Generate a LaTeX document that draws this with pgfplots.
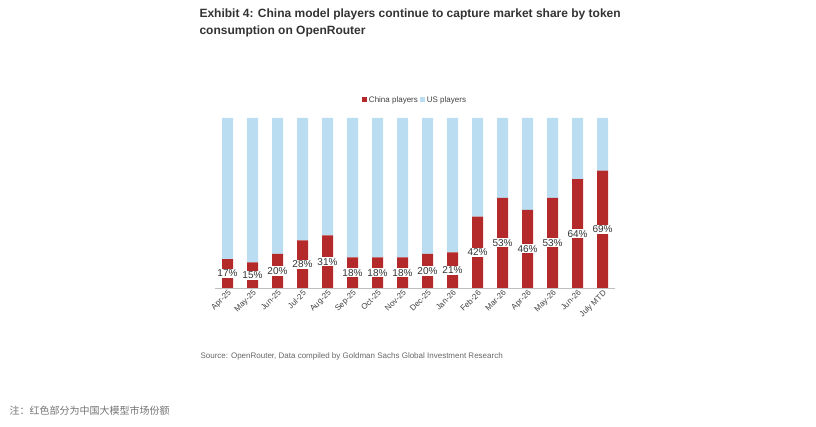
\documentclass[border=0pt]{standalone}
\usepackage{pgfplots}
\pgfplotsset{compat=1.18}
\usepackage{fontspec}
\setmainfont{Liberation Sans}
\newfontfamily\cjk{Noto Sans CJK SC}
\definecolor{cn}{HTML}{B42A2A}
\definecolor{us}{HTML}{BADDF1}
\begin{document}
\begin{tikzpicture}
\useasboundingbox (0pt,0pt) rectangle (816pt,427pt);
\node[anchor=north west,align=left,font=\bfseries\fontsize{12}{17}\selectfont,text=black!80] at (196pt,422pt) {Exhibit 4: China model players continue to capture market share by token\\consumption on OpenRouter};
\begin{axis}[at={(215pt,139pt)},anchor=south west,scale only axis,width=400pt,height=170pt,
  ybar stacked, bar width=11pt, xmin=-0.5,xmax=15.5, ymin=0,ymax=100,
  axis x line*=bottom, x axis line style={black!25,-},
  hide y axis, xtick=data, xtick style={draw=none},
  xticklabels={Apr-25,May-25,Jun-25,Jul-25,Aug-25,Sep-25,Oct-25,Nov-25,Dec-25,Jan-26,Feb-26,Mar-26,Apr-26,May-26,Jun-26,July MTD},
  xticklabel style={rotate=45,anchor=north east,font=\fontsize{8}{9}\selectfont,text=black!75,inner sep=1pt},
  legend style={at={(0.5,1.06)},anchor=south,draw=none,font=\fontsize{8}{9}\selectfont,text=black!75},
  legend columns=2, legend image code/.code={\fill[#1] (0pt,-2.5pt) rectangle (5pt,2.5pt);},
  legend cell align=left]
\addplot[fill=cn,draw=none] coordinates {(0,17)(1,15)(2,20)(3,28)(4,31)(5,18)(6,18)(7,18)(8,20)(9,21)(10,42)(11,53)(12,46)(13,53)(14,64)(15,69)};
\addplot[fill=us,draw=none] coordinates {(0,83)(1,85)(2,80)(3,72)(4,69)(5,82)(6,82)(7,82)(8,80)(9,79)(10,58)(11,47)(12,54)(13,47)(14,36)(15,31)};
\legend{China players,US players}
\end{axis}
\begin{axis}[at={(215pt,139pt)},anchor=south west,scale only axis,width=400pt,height=170pt,
  xmin=-0.5,xmax=15.5, ymin=0,ymax=100, hide axis,
  nodes near coords={\pgfmathprintnumber[assume math mode=true]{\pgfplotspointmeta}\%},
  point meta=explicit,
  every node near coord/.append style={anchor=center,fill=white,inner sep=1pt,font=\fontsize{10}{11}\selectfont,text=black!80}]
\addplot[only marks,mark=none,draw=none] coordinates {(0,8.5)[17](1,7.5)[15](2,10)[20](3,14)[28](4,15.5)[31](5,9)[18](6,9)[18](7,9)[18](8,10)[20](9,10.5)[21](10,21)[42](11,26.5)[53](12,23)[46](13,26.5)[53](14,32)[64](15,34.5)[69]};
\end{axis}
\node[anchor=west,font=\fontsize{8}{10}\selectfont,text=black!60] at (197pt,71pt) {Source: OpenRouter, Data compiled by Goldman Sachs Global Investment Research};
\node[anchor=west,font=\cjk\fontsize{10}{12}\selectfont,text=black!55] at (6pt,16pt) {注：红色部分为中国大模型市场份额};
\end{tikzpicture}
\end{document}
